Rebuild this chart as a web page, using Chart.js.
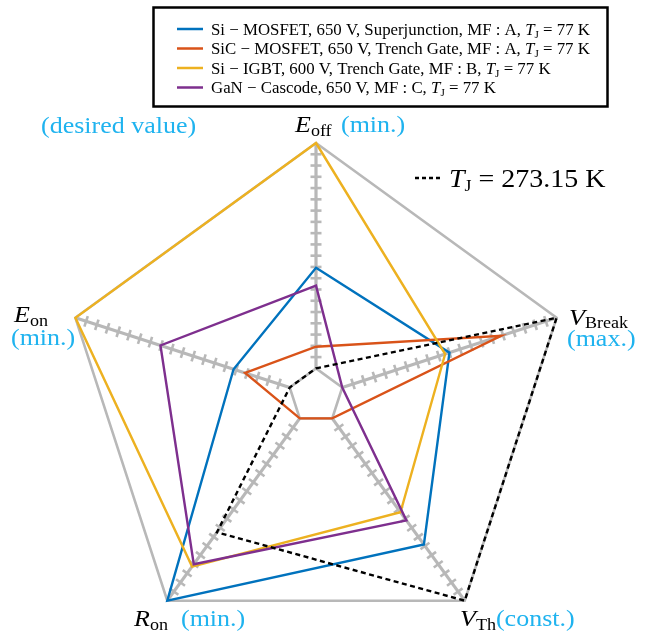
<!DOCTYPE html>
<html>
<head>
<meta charset="utf-8">
<script src="https://cdn.jsdelivr.net/npm/chart.js@4.4.1/dist/chart.umd.min.js"></script>
<style>
  html, body { margin: 0; padding: 0; background: #fff; overflow: hidden; }
  #wrap { position: relative; width: 649px; height: 660px; }
</style>
</head>
<body>
<div id="wrap"><canvas id="radar" width="649" height="660"></canvas></div>
<script>
// axes, clockwise from the top
var axes = ['E_off', 'V_Break', 'V_Th', 'R_on', 'E_on'];

// normalised values: 0 = inner pentagon, 1 = outer pentagon
var siMosfet   = [0.446, 0.50, 0.692, 1.00, 0.262];
var sicMosfet  = [0.096, 0.741, 0.00, 0.00, 0.208];
var siIgbt     = [1.00, 0.48, 0.515, 0.813, 1.00];
var ganCascode = [0.367, 0.00, 0.56, 0.80, 0.603];
var tj273      = [0.00, 1.00, 1.00, 0.625, 0.00];

var seriesNames = [
    'Si − MOSFET, 650 V, Superjunction, MF : A, ',
    'SiC − MOSFET, 650 V, Trench Gate, MF : A, ',
    'Si − IGBT, 600 V, Trench Gate, MF : B, ',
    'GaN − Cascode, 650 V, MF : C, '
];
var seriesColors = ['#0072bd', '#d95319', '#edb120', '#7e2f8e'];

// hash marks on each axis
var axisTicks = [];
for (var k = 1; k < 20; k++) axisTicks.push(k / 20);

var CYAN = '#1fb3ef';
var GREY = '#b8b8b8';
var SERIF = '"Liberation Serif", "DejaVu Serif", serif';

// draws a run of text pieces; sx stretches the run horizontally
function drawRich(ctx, x0, y, parts, sx) {
    sx = sx || 1;
    ctx.save();
    ctx.translate(x0, y);
    ctx.scale(sx, 1);
    var x = 0;
    parts.forEach(function(p) {
        ctx.font = p.f;
        ctx.fillStyle = p.c || '#000';
        if (p.x !== undefined) x = (p.x - x0) / sx;
        ctx.fillText(p.t, x, p.dy || 0);
        x += ctx.measureText(p.t).width;
    });
    ctx.restore();
}

// axes with hash marks, drawn under the series
var axisPlugin = {
    id: 'axisPlugin',
    beforeDatasetsDraw: function(chart) {
        var ctx = chart.ctx;
        var scale = chart.scales.r;
        ctx.save();
        ctx.strokeStyle = GREY;
        ctx.lineCap = 'butt';
        for (var i = 0; i < axes.length; i++) {
            var a = scale.getPointPositionForValue(i, 0);
            var b = scale.getPointPositionForValue(i, 1);
            ctx.lineWidth = 3.2;
            ctx.beginPath();
            ctx.moveTo(a.x, a.y);
            ctx.lineTo(b.x, b.y);
            ctx.stroke();
            var ang = scale.getIndexAngle(i) - Math.PI / 2;
            var nx = -Math.sin(ang), ny = Math.cos(ang);
            ctx.lineWidth = 2.6;
            axisTicks.forEach(function(v) {
                var p = scale.getPointPositionForValue(i, v);
                ctx.beginPath();
                ctx.moveTo(p.x - nx * 5.5, p.y - ny * 5.5);
                ctx.lineTo(p.x + nx * 5.5, p.y + ny * 5.5);
                ctx.stroke();
            });
        }
        ctx.restore();
    }
};

// axis names, legend box and notes
var textPlugin = {
    id: 'textPlugin',
    afterDraw: function(chart) {
        var ctx = chart.ctx;
        ctx.save();
        ctx.textBaseline = 'alphabetic';
        var big = '23px ' + SERIF, bigI = 'italic 23px ' + SERIF, sub = '16px ' + SERIF;
        var sx = 1.13;

        drawRich(ctx, 295, 132, [{t: 'E', f: bigI}, {t: 'off', f: sub, dy: 4}, {t: '(min.)', f: big, c: CYAN, x: 341}], sx);
        drawRich(ctx, 41, 133, [{t: '(desired value)', f: big, c: CYAN}], sx);
        drawRich(ctx, 569, 325, [{t: 'V', f: bigI}, {t: 'Break', f: sub, dy: 3}], sx);
        drawRich(ctx, 567, 346, [{t: '(max.)', f: big, c: CYAN}], sx);
        drawRich(ctx, 460, 626, [{t: 'V', f: bigI}, {t: 'Th', f: sub, dy: 4}, {t: '(const.)', f: big, c: CYAN}], sx);
        drawRich(ctx, 134, 626, [{t: 'R', f: bigI}, {t: 'on', f: sub, dy: 4}, {t: '(min.)', f: big, c: CYAN, x: 181}], sx);
        drawRich(ctx, 14, 322, [{t: 'E', f: bigI}, {t: 'on', f: sub, dy: 4}], sx);
        drawRich(ctx, 11, 345, [{t: '(min.)', f: big, c: CYAN}], sx);

        // junction temperature note for the dashed series
        ctx.strokeStyle = '#000';
        ctx.lineWidth = 2.6;
        ctx.setLineDash([4, 3]);
        ctx.beginPath();
        ctx.moveTo(415, 178);
        ctx.lineTo(441, 178);
        ctx.stroke();
        ctx.setLineDash([]);
        drawRich(ctx, 449, 187, [{t: 'T', f: 'italic 25px ' + SERIF}, {t: 'J', f: sub, dy: 4}, {t: ' = 273.15 K', f: '25px ' + SERIF}], 1.12);

        // legend
        ctx.lineWidth = 2.5;
        ctx.strokeStyle = '#000';
        ctx.strokeRect(153.5, 7.5, 454, 99);
        var rowY = [29, 48.5, 68, 87.5];
        seriesNames.forEach(function(name, i) {
            ctx.strokeStyle = seriesColors[i];
            ctx.lineWidth = 2.5;
            ctx.beginPath();
            ctx.moveTo(177, rowY[i]);
            ctx.lineTo(203, rowY[i]);
            ctx.stroke();
            drawRich(ctx, 211, rowY[i] + 5.5, [
                {t: name, f: '16.5px ' + SERIF},
                {t: 'T', f: 'italic 16.5px ' + SERIF},
                {t: 'J', f: '11px ' + SERIF, dy: 3},
                {t: ' = 77 K', f: '16.5px ' + SERIF}
            ], 1.02);
        });
        ctx.restore();
    }
};

function series(label, data, color, dash, order) {
    return {
        label: label,
        data: data,
        borderColor: color,
        borderWidth: 2.4,
        borderDash: dash,
        backgroundColor: 'transparent',
        fill: false,
        pointRadius: 0,
        pointHoverRadius: 0,
        order: order
    };
}

var chart = new Chart(document.getElementById('radar'), {
    type: 'radar',
    data: {
        labels: axes,
        datasets: [
            series(seriesNames[0], siMosfet, seriesColors[0], [], 4),
            series(seriesNames[1], sicMosfet, seriesColors[1], [], 3),
            series(seriesNames[2], siIgbt, seriesColors[2], [], 2),
            series(seriesNames[3], ganCascode, seriesColors[3], [], 1),
            series('T_J = 273.15 K', tj273, '#000', [5, 3.5], 0)
        ]
    },
    plugins: [axisPlugin, textPlugin],
    options: {
        responsive: false,
        animation: false,
        devicePixelRatio: 1,
        layout: { padding: { left: 62, right: 79, top: 143, bottom: 9.6 } },
        plugins: { legend: { display: false }, tooltip: { enabled: false } },
        elements: { line: { tension: 0, borderJoinStyle: 'miter' } },
        scales: {
            r: {
                min: -0.1226,
                max: 1,
                afterBuildTicks: function(scale) {
                    scale.ticks = [{value: 0}, {value: 1}];
                },
                ticks: { display: false },
                pointLabels: { display: false },
                angleLines: { display: false },
                grid: { color: GREY, lineWidth: 2.6 }
            }
        }
    }
});
</script>
</body>
</html>
